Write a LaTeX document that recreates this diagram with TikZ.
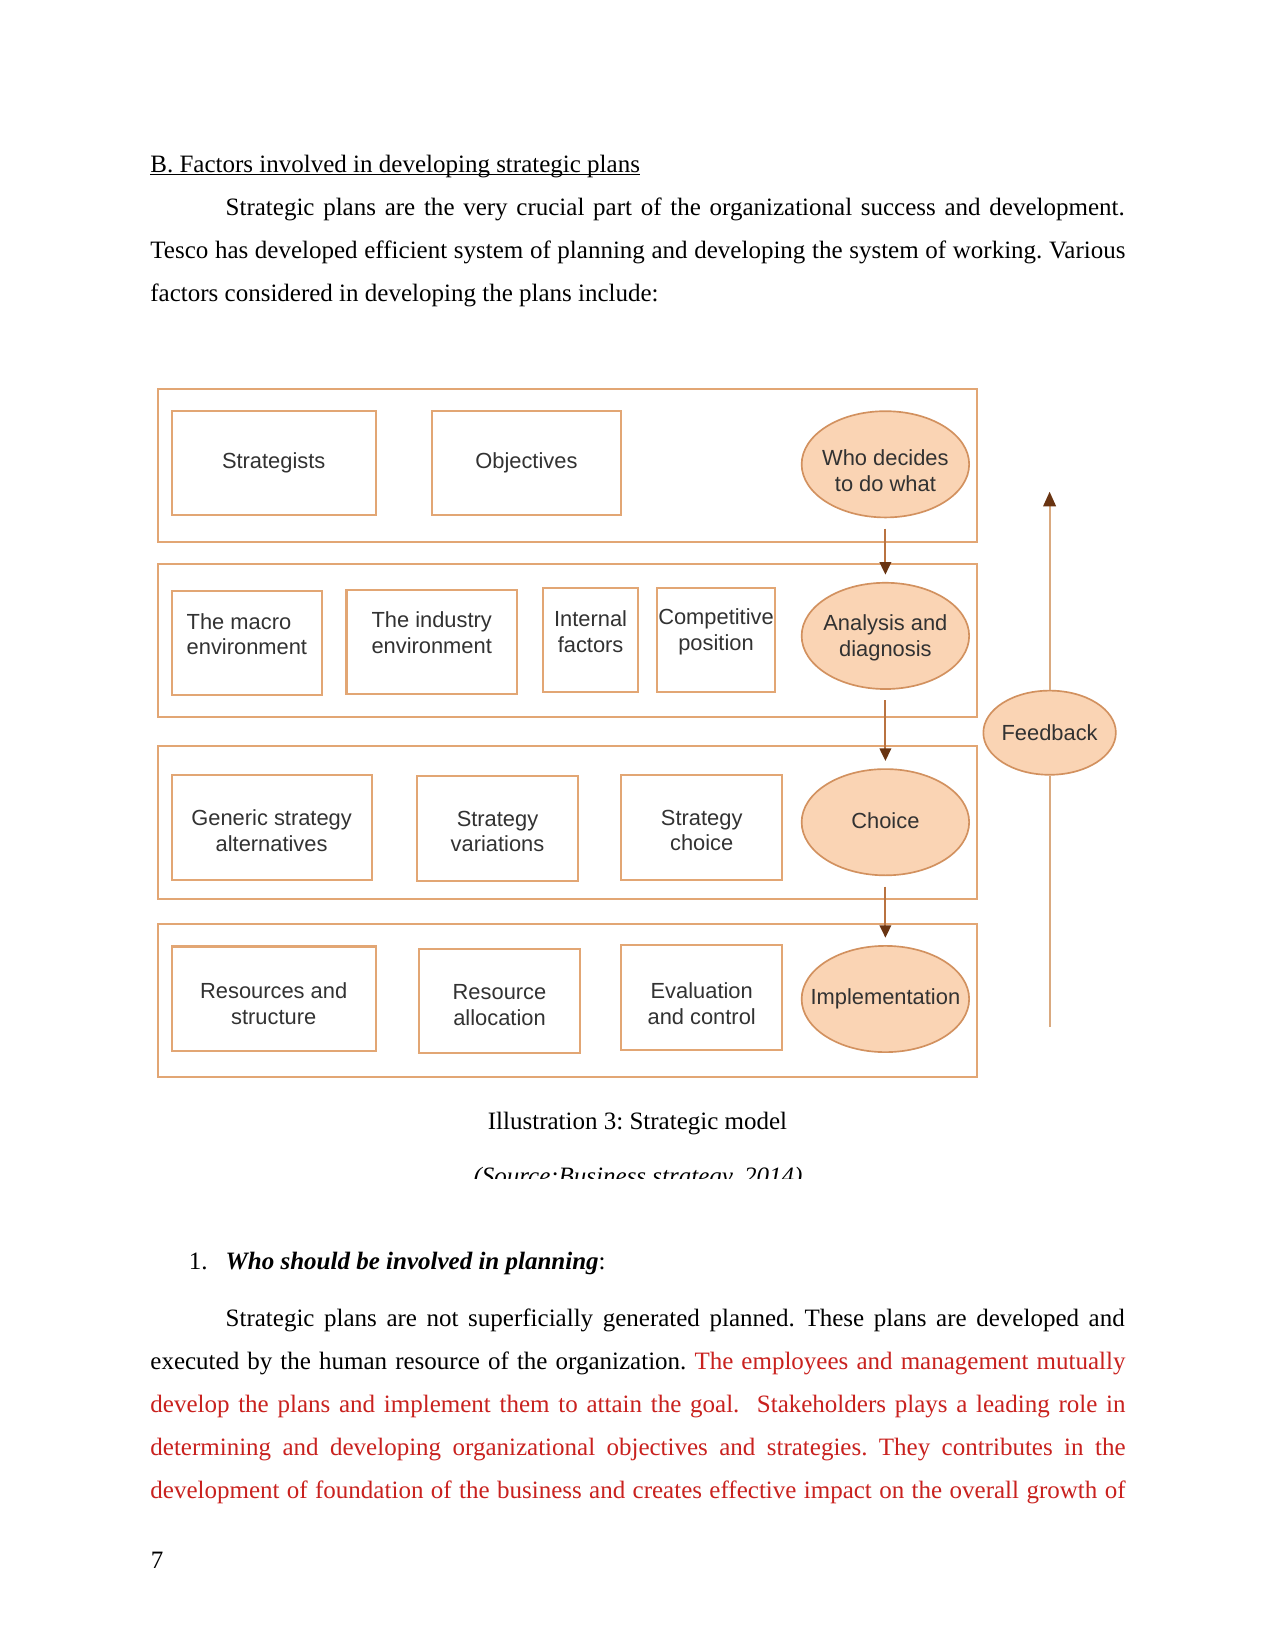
\documentclass[tikz,border=0pt]{standalone}
\usepackage{fontspec}
\setmainfont{Liberation Serif}
\newfontfamily\diagsans{Liberation Sans}
\usepackage{tikz}
\usetikzlibrary{arrows.meta,shapes.geometric}
\definecolor{boxedge}{RGB}{226,166,116}
\definecolor{ovalfill}{RGB}{250,212,180}
\definecolor{ovaledge}{RGB}{210,145,95}
\definecolor{diagtext}{RGB}{50,50,50}
\definecolor{flowline}{RGB}{185,115,65}
\definecolor{tipbrown}{RGB}{105,52,18}
\definecolor{fbline}{RGB}{218,170,128}
\definecolor{tred}{RGB}{201,33,30}
\newcommand\bodysize{\fontsize{12bp}{14bp}\selectfont\frenchspacing}
\newcommand\diagsize{\diagsans\fontsize{10.5bp}{12.2bp}\selectfont}
\newcommand\fullline[1]{\makebox[468bp][s]{#1}}
\newcommand\indline[1]{\makebox[431.5bp][s]{#1}}

\begin{document}
\begin{tikzpicture}
    [x={(0.48bp,0bp)},y={(0bp,-0.48bp)},
     txt/.style={anchor=base west,inner sep=0pt,font=\bodysize},
     row/.style={draw=boxedge,line width=1bp,minimum width=393.1bp,minimum height=73.5bp,inner sep=0pt},
     item/.style={draw=boxedge,line width=1bp,minimum height=50bp,inner sep=0pt},
     itemtext/.style={font=\diagsize,text=diagtext,align=center},
     stage/.style={ellipse,draw=ovaledge,fill=ovalfill,line width=0.8bp,minimum width=80.4bp,minimum height=51bp,inner sep=0pt},
     flow/.style={draw=flowline,line width=1bp,shorten <=5bp,shorten >=3.5bp,-{Triangle[width=5.5bp,length=6bp,color=tipbrown]}},
     fb/.style={draw=fbline,line width=1bp}]
    \fill[white] (0,0) rectangle (1275,1651);
    \useasboundingbox (0,0) rectangle (1275,1651);
    % heading and opening paragraph
    \node[txt] (head) at (150,172) {B. Factors involved in developing strategic plans};
    \draw[line width=0.5bp] ([yshift=-1.4bp]head.base west) -- ([yshift=-1.4bp]head.base east);
    \node[txt] (intro1) at (225.3,215) {\indline{Strategic plans are the very crucial part of the organizational success and development.}};
    \node[txt] (intro2) at (150,258.5) {\fullline{Tesco has developed efficient system of planning and developing the system of working. Various}};
    \node[txt] (intro3) at (150,301.5) {factors considered in developing the plans include:};
    % rows
    \node[row] (r1) at (567.5,465.3) {};
    \node[row] (r2) at (567.5,640.6) {};
    \node[row] (r3) at (567.5,822.2) {};
    \node[row] (r4) at (567.5,1000.7) {};
    % row 1
    \node[item,minimum width=98bp,label={[itemtext]center:Strategists}] (strat) at (273.7,462.7) {};
    \node[item,minimum width=91bp,label={[itemtext]center:Objectives}] (obj) at (526.4,462.7) {};
    \node[stage,label={[itemtext,yshift=-3bp]center:Who decides\\to do what}] (who) at (885.4,464.3) {};
    % row 2
    \node[item,minimum width=72.3bp,label={[itemtext,align=left,yshift=4.5bp]center:The macro\\environment}] (macro) at (246.9,643.3) {};
    \node[item,minimum width=81.8bp,label={[itemtext,yshift=4.5bp]center:The industry\\environment}] (industry) at (431.7,642.2) {};
    \node[item,minimum width=45.5bp,label={[itemtext,yshift=4bp]center:Internal\\factors}] (internal) at (590.6,640.1) {};
    \node[item,minimum width=56.6bp,label={[itemtext,yshift=4bp]center:Competitive\\position}] (compet) at (716,640.1) {};
    \node[stage,label={[itemtext,yshift=-1bp]center:Analysis and\\diagnosis}] (anal) at (885.4,635.9) {};
    % row 3
    \node[item,minimum width=96bp,label={[itemtext,yshift=-1.5bp]center:Generic strategy\\alternatives}] (generic) at (271.6,827.5) {};
    \node[item,minimum width=77.3bp,label={[itemtext,yshift=-1.5bp]center:Strategy\\variations}] (variat) at (497.5,828.5) {};
    \node[item,minimum width=77.3bp,label={[itemtext,yshift=-1.5bp]center:Strategy\\choice}] (schoice) at (701.7,827.5) {};
    \node[stage,label={[itemtext,yshift=0.8bp]center:Choice}] (choice) at (885.4,822.2) {};
    % row 4
    \node[item,minimum width=98bp,label={[itemtext,yshift=-2.5bp]center:Resources and\\structure}] (resour) at (273.7,998.6) {};
    \node[item,minimum width=77.3bp,label={[itemtext,yshift=-2bp]center:Resource\\allocation}] (alloc) at (499.5,1000.7) {};
    \node[item,minimum width=77.3bp,label={[itemtext,yshift=-3bp]center:Evaluation\\and control}] (evalc) at (701.7,997.5) {};
    \node[stage,label={[itemtext]center:Implementation}] (impl) at (885.4,999) {};
    % flow down
    \draw[flow] (who) -- (anal);
    \draw[flow] (anal) -- (choice);
    \draw[flow] (choice) -- (impl);
    % feedback
    \node[stage,minimum width=63.6bp,minimum height=40.4bp,label={[itemtext]center:Feedback}] (feedback) at (1049.6,732.7) {};
    \coordinate (fbfoot) at (1049.6,1026.5);
    \coordinate (fbhead) at (1049.6,491.7);
    \draw[fb] (fbfoot) -- (feedback);
    \draw[fb,-{Triangle[width=6bp,length=7bp,color=tipbrown]}] (feedback) -- (fbhead);
    % caption
    \node[txt,anchor=base] (cap) at (637.5,1129) {Illustration 3: Strategic model};
    \begin{scope}
      \clip (0,0) rectangle (1275,1178);
      \node[txt,anchor=base] (src) at (638,1184) {\textit{(Source:Business strategy, 2014)}};
    \end{scope}
    % who should be involved
    \node[txt] (num) at (188.4,1269) {1.};
    \node[txt] (quest) at (225.3,1269) {\textbf{\textit{Who should be involved in planning}}:};
    \node[txt] (body1) at (225.3,1326) {\indline{Strategic plans are not superficially generated planned. These plans are developed and}};
    \node[txt] (body2) at (150,1369) {\fullline{executed by the human resource of the organization. \textcolor{tred}{The employees and management mutually}}};
    \node[txt,text=tred] (body3) at (150,1412) {\fullline{develop the plans and implement them to attain the goal.\ \ Stakeholders plays a leading role in}};
    \node[txt,text=tred] (body4) at (150,1455.5) {\fullline{determining and developing organizational objectives and strategies. They contributes in the}};
    \node[txt,text=tred] (body5) at (150,1498.5) {\fullline{development of foundation of the business and creates effective impact on the overall growth of}};
    % page number
    \node[txt] (page) at (150.5,1568) {7};
\end{tikzpicture}
\end{document}
